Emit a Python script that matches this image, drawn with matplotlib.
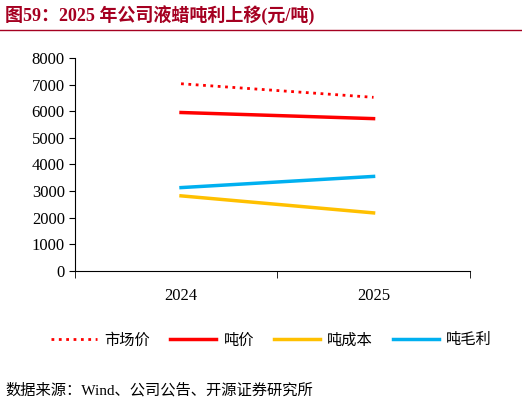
import matplotlib
matplotlib.use("Agg")
import matplotlib.pyplot as plt
from matplotlib.lines import Line2D

plt.rcParams['font.family'] = ['Liberation Serif', 'Noto Sans CJK SC']

years = ['2024', '2025']
market = [7030, 6520]
price = [5950, 5720]
cost = [2820, 2180]
margin = [3130, 3550]
names = ['市场价', '吨价', '吨成本', '吨毛利']

fig = plt.figure(figsize=(5.22, 4.05), dpi=100)
ax = fig.add_axes([0.144, 0.331, 0.756, 0.526])
x = [0, 1]
ax.plot(x, market, color='#FF0000', ls=':', lw=2)
ax.plot(x, price, color='#FF0000', lw=2.5)
ax.plot(x, cost, color='#FFC000', lw=2.5)
ax.plot(x, margin, color='#00B0F0', lw=2.5)
ax.set_xlim(-0.55, 1.5)
ax.set_ylim(0, 8000)
ax.set_yticks(range(0, 8001, 1000))
ax.set_xticks(x)
ax.set_xticklabels(years)
ax.set_xticks([-0.55, 0.5, 1.5], minor=True)
ax.tick_params(axis='x', which='major', length=0, labelsize=12, pad=12)
ax.tick_params(axis='x', which='minor', length=5, direction='out')
ax.tick_params(axis='y', labelsize=12, length=4, direction='out')
for s in ['top', 'right']:
    ax.spines[s].set_visible(False)

handles = [Line2D([], [], color='#FF0000', ls=':', lw=2),
           Line2D([], [], color='#FF0000', lw=2.5),
           Line2D([], [], color='#FFC000', lw=2.5),
           Line2D([], [], color='#00B0F0', lw=2.5)]
fig.legend(handles, names, loc='center', bbox_to_anchor=(0.52, 0.16), ncol=4,
           frameon=False, fontsize=11, handlelength=3.0, columnspacing=1.3, handletextpad=0.5)

fig.text(0.01, 0.962, '图59：2025 年公司液蜡吨利上移(元/吨)', color='#A50021',
         fontsize=13, fontweight='bold', va='center')
fig.add_artist(Line2D([0.0, 1.0], [0.925, 0.925], color='#A50021', lw=1))
fig.text(0.01, 0.035, '数据来源：Wind、公司公告、开源证券研究所', fontsize=11, va='center')
fig.savefig('out.png', dpi=100)
